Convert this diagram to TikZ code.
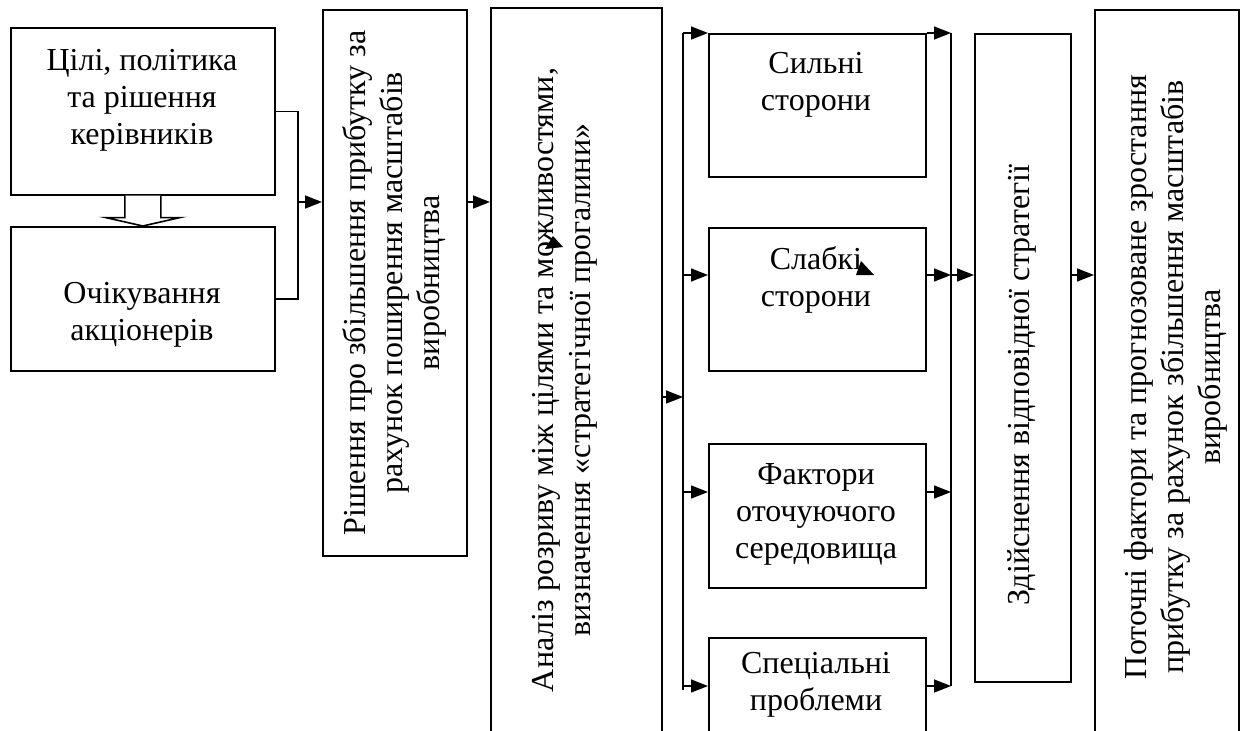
\documentclass[tikz,border=0pt]{standalone}
\usepackage{fontspec}
\setmainfont{Liberation Serif}
\usetikzlibrary{arrows.meta,calc}
\begin{document}
\begin{tikzpicture}[x=1pt,y=-1pt,
  box/.style={draw,line width=1.6pt,inner sep=0pt,anchor=north west},
  txt/.style={font=\fontsize{32}{37}\selectfont,align=center,inner sep=0pt},
  vtxt/.style={txt,rotate=90},
  link/.style={line width=1.6pt},
  arr/.style={line width=1.6pt,-{Triangle[length=17pt,width=13pt]}},
  hollow/.style={line width=1.6pt,fill=white,line join=miter}]
\useasboundingbox (0,0) rectangle (1243,731);
\clip (0,0) rectangle (1243,731);

% boxes
\node[box,minimum width=264,minimum height=167] (A) at (10,27) {};
\node[box,minimum width=264,minimum height=144] (B) at (10,226) {};
\node[box,minimum width=144,minimum height=546] (C) at (322,9) {};
\node[box,minimum width=171,minimum height=760] (D) at (490,7) {};
\node[box,minimum width=217,minimum height=143] (E1) at (708,33) {};
\node[box,minimum width=217,minimum height=143] (E2) at (708,227) {};
\node[box,minimum width=217,minimum height=144] (E3) at (708,443) {};
\node[box,minimum width=217,minimum height=144] (E4) at (708,637) {};
\node[box,minimum width=96,minimum height=648] (F) at (974,33) {};
\node[box,minimum width=144,minimum height=760] (G) at (1094,9) {};

% texts
\node[txt] (tA) at (142,100) {Цілі, політика\\та рішення\\керівників};
\node[txt] (tB) at (142,315) {Очікування\\акціонерів};
\node[vtxt] (tC) at (C.center) {Рішення про збільшення прибутку за\\рахунок поширення масштабів\\виробництва};
\node[vtxt] (tD) at (565,380) {Аналіз розриву між цілями та можливостями,\\визначення «стратегічної прогалини»};
\node[txt] (tE1) at (816,85) {Сильні\\сторони};
\node[txt] (tE2) at (816,280) {Слабкі\\сторони};
\node[txt] (tE3) at (816,514) {Фактори\\оточуючого\\середовища};
\node[txt] (tE4) at (816,685) {Спеціальні\\проблеми};
\node[vtxt] (tF) at (1022,385) {Здійснення відповідної стратегії};
\node[vtxt] (tG) at (1176,377) {Поточні фактори та прогнозоване зростання\\прибутку за рахунок збільшення масштабів\\виробництва};

% junction points
\coordinate (jx) at (298,202);
\coordinate (bl) at (683,397);
\coordinate (r1) at (683,33);
\coordinate (r2) at (683,275);
\coordinate (r3) at (683,492);
\coordinate (r4) at (683,686);
\coordinate (br) at (951,33);

% hollow arrow between the two left boxes
\draw[hollow] ($(A.south)+(-18,0)$) -- ++(0,22) -- ++(-19,0) -- (B.north)
  -- ($(A.south)+(37,22)$) -- ++(-19,0) -- ++(0,-22);

% left bracket into the decision box
\draw[link] (A.east) -| (jx) |- (B.east);
\draw[arr] (jx) -- (jx -| C.west);
\draw[arr] (jx -| C.east) -- (jx -| D.west);

% distribution bus
\draw[arr] (bl -| D.east) -- (bl);
\draw[link] (r1) -- ($(r4)+(0,4)$);
\draw[arr] (r1) -- (E1.north west);
\draw[arr] (r2) -- (r2 -| E2.west);
\draw[arr] (r3) -- (r3 -| E3.west);
\draw[arr] (r4) -- (r4 -| E4.west);

% collecting bus
\draw[link] (br) -- (r4 -| br);
\draw[arr] (E1.north east) -- (br);
\draw[arr] (r2 -| E2.east) -- (r2 -| br);
\draw[arr] (r3 -| E3.east) -- (r3 -| br);
\draw[arr] (r4 -| E4.east) -- (r4 -| br);
\draw[arr] (r2 -| br) -- (r2 -| F.west);
\draw[arr] (r2 -| F.east) -- (r2 -| G.west);

% loose arrowheads
\fill (553,236) -- (545,249) -- (563,247) -- cycle;
\fill (861,261) -- (856,275) -- (874,275) -- cycle;
\end{tikzpicture}
\end{document}
